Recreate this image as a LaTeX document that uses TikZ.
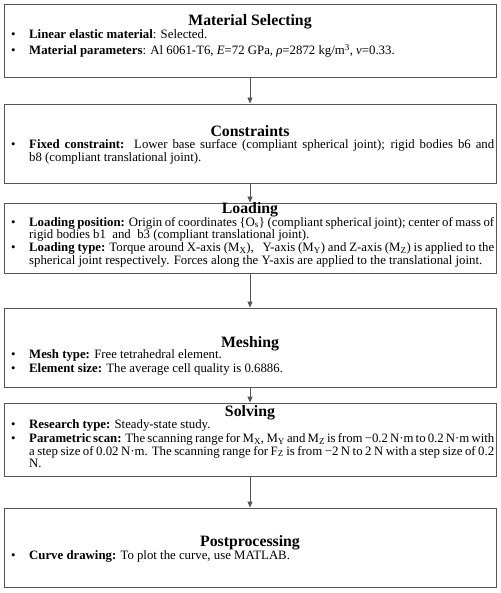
\documentclass[tikz,border=0pt]{standalone}
\usepackage{fontspec}
\setmainfont{Liberation Serif}
\usetikzlibrary{arrows.meta}
\definecolor{edge}{HTML}{555555}
\newcommand\bul{\makebox[18pt][l]{\textbullet}}
\newcommand\ind{\hspace*{18pt}}
\newcommand\J[1]{\makebox[465pt][s]{#1}}
\newcommand\sbs[1]{\textsubscript{#1}}
\tikzset{
  x=1pt, y=-1pt,
  box/.style={draw=edge, line width=0.9pt, minimum width=492pt, inner sep=0pt},
  ttl/.style={font=\fontsize{15.8}{18}\selectfont\bfseries, inner sep=0pt, anchor=base},
  body/.style={font=\fontsize{12.8}{12.7}\selectfont, align=left, inner sep=0pt, anchor=north west},
  flow/.style={draw=edge, line width=0.9pt, -{Triangle[width=5pt,length=6pt]}}
}
\begin{document}
\begin{tikzpicture}
\useasboundingbox (0,0) rectangle (500,593);
% boxes
\node[box, minimum height=73pt] (b1) at (250,40.5) {};
\node[box, minimum height=79pt] (b2) at (250,143.5) {};
\node[box, minimum height=70pt] (b3) at (250,238) {};
\node[box, minimum height=79pt] (b4) at (250,347.5) {};
\node[box, minimum height=73pt] (b5) at (250,439.5) {};
\node[box, minimum height=79pt] (b6) at (250,547.5) {};
% titles
\node[ttl] (h1) at (250,25.5) {Material Selecting};
\node[ttl] (h2) at (250,136.5) {Constraints};
\node[ttl] (h3) at (250,213.8) {Loading};
\node[ttl] (h4) at (250,347.5) {Meshing};
\node[ttl] (h5) at (250,416.5) {Solving};
\node[ttl] (h6) at (250,546.5) {Postprocessing};
% bodies
\node[body] (t1) at (11,29.5) {%
\strut\bul\textbf{Linear elastic material}: Selected.\\[1.3pt]
\bul\textbf{Material parameters}: Al 6061-T6, \textit{E}=72 GPa, \textit{ρ}=2872 kg/m\textsuperscript{3}, \textit{ν}=0.33.};
\node[body] (t2) at (11,139.5) {%
\strut\bul\J{\textbf{Fixed constraint:}\ \ Lower base surface (compliant spherical joint); rigid bodies b6 and}\\
\ind b8 (compliant translational joint).};
\node[body] (t3) at (11,216.8) {%
\strut\bul\J{\textbf{Loading position:} Origin of coordinates \{O\sbs{s}\} (compliant spherical joint); center of mass of}\\
\ind rigid bodies b1\ \ and\ \ b3 (compliant translational joint).\\
\bul\J{\textbf{Loading type:} Torque around X-axis (M\sbs{X}),\ \ \ Y-axis (M\sbs{Y}) and Z-axis (M\sbs{Z}) is applied to the}\\
\ind spherical joint respectively. Forces along the Y-axis are applied to the translational joint.};
\node[body] (t4) at (11,349.5) {%
\strut\bul\textbf{Mesh type:} Free tetrahedral element.\\[1.3pt]
\bul\textbf{Element size:} The average cell quality is 0.6886.};
\node[body] (t5) at (11,419.5) {%
\strut\bul\textbf{Research type:} Steady-state study.\\
\bul\J{\textbf{Parametric scan:} The scanning range for M\sbs{X}, M\sbs{Y} and M\sbs{Z} is from −0.2 N·m to 0.2 N·m with}\\
\ind\J{a step size of 0.02 N·m. The scanning range for F\sbs{Z} is from −2 N to 2 N with a step size of 0.2}\\
\ind N.};
\node[body] (t6) at (11,550.5) {%
\strut\bul\textbf{Curve drawing:} To plot the curve, use MATLAB.};
% connectors
\draw[flow] (b1.south) -- (b2.north);
\draw[flow] (b2.south) -- (b3.north);
\draw[flow] (b3.south) -- (b4.north);
\draw[flow] (b4.south) -- (b5.north);
\draw[flow] (b5.south) -- (b6.north);
\end{tikzpicture}
\end{document}
